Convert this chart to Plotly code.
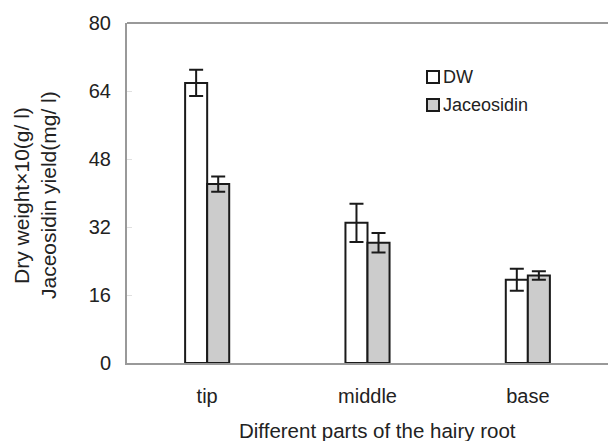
import plotly.graph_objects as go

categories = ["tip", "middle", "base"]
dw_values = [65.9, 33.0, 19.6]
dw_errors = [3.1, 4.5, 2.6]
jac_values = [42.1, 28.3, 20.6]
jac_errors = [1.8, 2.3, 1.0]
y_ticks = [0, 16, 32, 48, 64, 80]
series_names = ["DW", "Jaceosidin"]

FONT = "Liberation Sans, Arial, sans-serif"
W, H = 608, 441
ML, MR, MT, MB = 127, 0, 23, 78

fig = go.Figure()
fig.add_trace(go.Bar(
    x=categories, y=dw_values, name=series_names[0],
    marker=dict(color="white", line=dict(color="#1a1a1a", width=2)),
    error_y=dict(type="data", array=dw_errors, color="#1a1a1a", thickness=2, width=7),
    showlegend=False,
))
fig.add_trace(go.Bar(
    x=categories, y=jac_values, name=series_names[1],
    marker=dict(color="#cccccc", line=dict(color="#1a1a1a", width=2)),
    error_y=dict(type="data", array=jac_errors, color="#1a1a1a", thickness=2, width=7),
    showlegend=False,
))

fig.update_layout(
    width=W, height=H,
    margin=dict(l=ML, r=MR, t=MT, b=MB),
    paper_bgcolor="white", plot_bgcolor="white",
    barmode="group", bargap=0.725, bargroupgap=0,
    font=dict(family=FONT, size=20, color="#222222"),
    xaxis=dict(
        range=[-0.5, 2.5], showline=True, linecolor="#999999", linewidth=2,
        mirror=False, ticks="", ticklabelstandoff=14,
        tickfont=dict(size=20, color="#222222"),
    ),
    yaxis=dict(
        range=[0, 80], tickvals=y_ticks, showgrid=False, zeroline=False,
        showline=True, linecolor="#999999", linewidth=2,
        ticks="inside", ticklen=5, tickcolor="#e0e0e0", tickwidth=1,
        ticklabelstandoff=10, tickfont=dict(size=20, color="#222222"),
    ),
)

# top border line
fig.add_shape(type="line", xref="paper", yref="paper", x0=0, x1=1, y0=1, y1=1,
              line=dict(color="#999999", width=2))

pw = W - ML - MR
ph = H - MT - MB

def px_x(x):
    return (x - ML) / pw

def px_y(y):
    return (H - MB - y) / ph

# axis titles
fig.add_annotation(text="Dry weight×10(g/ l)", xref="paper", yref="paper",
                   x=px_x(21), y=px_y(196), textangle=-90, showarrow=False,
                   font=dict(size=21, color="#222222"), xanchor="center", yanchor="middle")
fig.add_annotation(text="Jaceosidin yield(mg/ l)", xref="paper", yref="paper",
                   x=px_x(48), y=px_y(195), textangle=-90, showarrow=False,
                   font=dict(size=21, color="#222222"), xanchor="center", yanchor="middle")
fig.add_annotation(text="Different parts of the hairy root", xref="paper", yref="paper",
                   x=px_x(377), y=px_y(430), showarrow=False,
                   font=dict(size=20.5, color="#222222"), xanchor="center", yanchor="middle")

# manual legend
legend_fills = ["white", "#cccccc"]
for i, (name, fill) in enumerate(zip(series_names, legend_fills)):
    cy = 77 + 28 * i
    fig.add_shape(type="rect", xref="paper", yref="paper",
                  x0=px_x(427), x1=px_x(439), y0=px_y(cy - 6), y1=px_y(cy + 6),
                  fillcolor=fill, line=dict(color="#1a1a1a", width=2))
    fig.add_annotation(text=name, xref="paper", yref="paper",
                       x=px_x(441), y=px_y(cy), showarrow=False,
                       xanchor="left", yanchor="middle",
                       font=dict(size=18, color="#222222"))

fig.write_html("out.html")
